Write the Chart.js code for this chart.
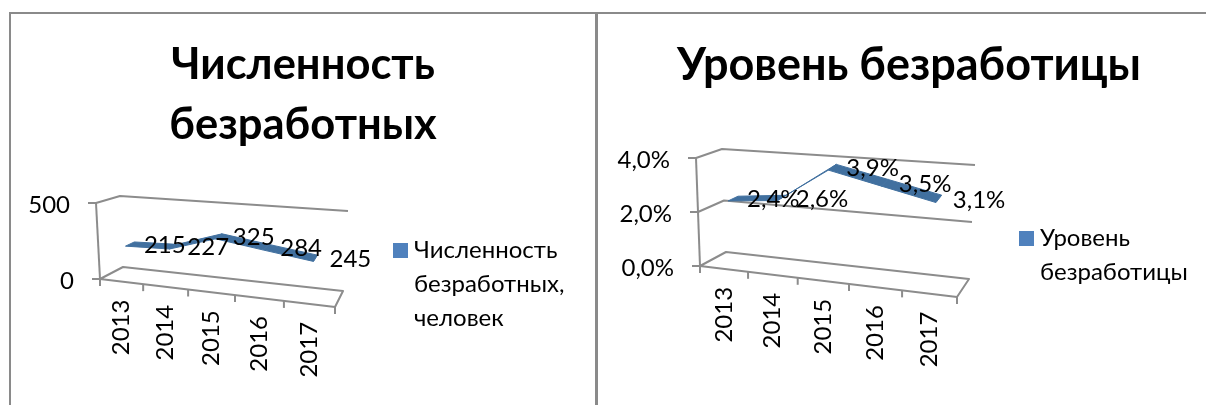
<!DOCTYPE html>
<html>
<head>
<meta charset="utf-8">
<style>
    html, body { margin: 0; padding: 0; background: #fff; overflow: hidden; }
    #frame { position: absolute; left: 9px; top: 12px; width: 1197px; height: 393px; border-left: 2px solid #8a8a8a; border-top: 2px solid #8a8a8a; box-sizing: border-box; }
    #divider { position: absolute; left: 595px; top: 12px; width: 3px; height: 393px; background: #8a8a8a; }
    canvas { position: absolute; top: 14px; }
    #chart-left { left: 11px; }
    #chart-right { left: 612px; }
</style>
<script src="https://cdn.jsdelivr.net/npm/chart.js@4"></script>
</head>
<body>
<div id="frame"></div>
<div id="divider"></div>
<canvas id="chart-left" width="584" height="391"></canvas>
<canvas id="chart-right" width="594" height="391"></canvas>
<script>
// Chart data
const categories = ['2013', '2014', '2015', '2016', '2017'];
const unemployedCounts = [215, 227, 325, 284, 245];
const unemploymentRates = [2.4, 2.6, 3.9, 3.5, 3.1];
const leftTitle = ['Численность', 'безработных'];
const rightTitle = 'Уровень безработицы';
const leftLegend = ['Численность', 'безработных,', 'человек'];
const rightLegend = ['Уровень', 'безработицы'];

const FONT = 'Lato, "Open Sans", sans-serif';
const GRID_COLOR = '#8c8c8c';
const RIBBON_COLOR = '#41709f';
const LEGEND_COLOR = '#4f81bd';

function lerp(a, b, t) {
    return [a[0] + (b[0] - a[0]) * t, a[1] + (b[1] - a[1]) * t];
}

// Fake Excel 3D box: maps u (along x), v (up), z (depth) onto the corners of the box
function project(box, u, v, z) {
    const w = box.warp * u / (1 + (box.warp - 1) * u);
    const frontBottom = lerp(box.fbl, box.fbr, w);
    const frontTop = lerp(box.ftl, box.ftr, w);
    const backBottom = lerp(box.bbl, box.bbr, w);
    const backTop = lerp(box.btl, box.btr, w);
    return lerp(lerp(frontBottom, frontTop, v), lerp(backBottom, backTop, v), z);
}

function strokePath(ctx, points) {
    ctx.beginPath();
    points.forEach((p, i) => i === 0 ? ctx.moveTo(p[0], p[1]) : ctx.lineTo(p[0], p[1]));
    ctx.stroke();
}

const box3d = {
    id: 'box3d',
    afterDatasetsDraw(chart, args, opts) {
        const ctx = chart.ctx;
        const box = opts.box;
        const xScale = chart.scales.x;
        const yScale = chart.scales.y;
        const area = chart.chartArea;
        const toU = px => (px - area.left) / (area.right - area.left);
        const toV = py => (area.bottom - py) / (area.bottom - area.top);

        ctx.save();
        ctx.translate(-opts.originX, -opts.originY);
        ctx.strokeStyle = GRID_COLOR;
        ctx.lineWidth = 2;
        ctx.lineJoin = 'round';
        ctx.fillStyle = '#000';
        ctx.font = opts.fontSize + 'px ' + FONT;

        // floor
        strokePath(ctx, [project(box, 0, 0, 0), project(box, 0, 0, 1), project(box, 1, 0, 1), project(box, 1, 0, 0), project(box, 0, 0, 0)]);
        // value axis
        strokePath(ctx, [project(box, 0, 0, 0), project(box, 0, 1, 0)]);

        // y ticks, walls and labels
        ctx.textAlign = 'right';
        ctx.textBaseline = 'middle';
        yScale.ticks.forEach((tick, i) => {
            const v = toV(yScale.getPixelForTick(i));
            const front = project(box, 0, v, 0);
            strokePath(ctx, [[front[0] - 8, front[1]], front]);
            if (v > 0) {
                strokePath(ctx, [front, project(box, 0, v, 1), project(box, 1, v, 1)]);
            }
            ctx.fillText(tick.label, front[0] - 26, front[1] + 2);
        });

        // x ticks at category edges
        for (let i = 0; i <= categories.length; i++) {
            const p = project(box, toU(xScale.getPixelForValue(i - 0.5)), 0, 0);
            strokePath(ctx, [p, [p[0], p[1] + 7]]);
        }

        // rotated x labels
        xScale.ticks.forEach((tick, i) => {
            const p = project(box, toU(xScale.getPixelForTick(i)), 0, 0);
            ctx.save();
            ctx.translate(p[0], p[1] + 18);
            ctx.rotate(-Math.PI / 2);
            ctx.textAlign = 'right';
            ctx.textBaseline = 'middle';
            ctx.fillText(tick.label, 0, 0);
            ctx.restore();
        });

        // ribbon from the dataset's own points
        const meta = chart.getDatasetMeta(0);
        const near = meta.data.map(el => project(box, toU(el.x), toV(el.y), opts.zNear));
        const far = meta.data.map(el => project(box, toU(el.x), toV(el.y), opts.zFar));
        ctx.fillStyle = RIBBON_COLOR;
        ctx.strokeStyle = RIBBON_COLOR;
        ctx.lineWidth = 1;
        for (let i = 0; i < near.length - 1; i++) {
            ctx.beginPath();
            ctx.moveTo(near[i][0], near[i][1]);
            ctx.lineTo(near[i + 1][0], near[i + 1][1]);
            ctx.lineTo(far[i + 1][0], far[i + 1][1]);
            ctx.lineTo(far[i][0], far[i][1]);
            ctx.closePath();
            ctx.fill();
            ctx.stroke();
        }

        // data labels sit to the right of each point
        ctx.fillStyle = '#000';
        ctx.textAlign = 'left';
        ctx.textBaseline = 'middle';
        chart.data.datasets[0].data.forEach((val, i) => {
            const el = meta.data[i];
            const p = project(box, toU(el.x), toV(el.y), (opts.zNear + opts.zFar) / 2);
            ctx.fillText(opts.format(val), p[0] + 14, p[1] + 1);
        });

        // legend
        ctx.fillStyle = LEGEND_COLOR;
        ctx.fillRect(opts.legend.x, opts.legend.y, 15, 15);
        ctx.fillStyle = '#000';
        opts.legend.lines.forEach((line, i) => {
            ctx.fillText(line, opts.legend.x + 21, opts.legend.y + 7 + i * 34);
        });
        ctx.restore();
    }
};

function buildChart(id, cfg) {
    return new Chart(document.getElementById(id), {
        type: 'line',
        data: {
            labels: categories,
            datasets: [{
                label: cfg.label,
                data: cfg.values,
                showLine: false,
                pointRadius: 0,
                borderColor: LEGEND_COLOR,
                backgroundColor: LEGEND_COLOR
            }]
        },
        options: {
            responsive: false,
            animation: false,
            devicePixelRatio: 1,
            layout: { padding: { bottom: 40, left: 20, right: 20 } },
            plugins: {
                legend: { display: false },
                tooltip: { enabled: false },
                title: {
                    display: true,
                    text: cfg.title,
                    color: '#000',
                    font: { family: FONT, size: cfg.titleSize, weight: 'bold', lineHeight: 60 / cfg.titleSize },
                    padding: { top: 21, bottom: 10 }
                },
                box3d: cfg.box3d
            },
            scales: {
                x: { display: false, offset: true, ticks: { autoSkip: false } },
                y: {
                    display: false,
                    min: 0,
                    max: cfg.max,
                    ticks: { stepSize: cfg.step, callback: cfg.format }
                }
            }
        },
        plugins: [box3d]
    });
}

buildChart('chart-left', {
    label: 'Численность безработных, человек',
    values: unemployedCounts,
    title: leftTitle,
    titleSize: 43.5,
    max: 500,
    step: 500,
    format: v => String(v),
    box3d: {
        originX: 11, originY: 14, fontSize: 24, zNear: 0.25, zFar: 0.65,
        format: v => String(v),
        legend: { x: 393, y: 243, lines: leftLegend },
        box: {
            warp: 0.9,
            fbl: [100, 279], ftl: [96, 203], bbl: [123, 267], btl: [120, 196],
            fbr: [335, 307], ftr: [340, 228], bbr: [343, 291], btr: [348, 211]
        }
    }
});

buildChart('chart-right', {
    label: 'Уровень безработицы',
    values: unemploymentRates,
    title: rightTitle,
    titleSize: 45,
    max: 4,
    step: 2,
    format: v => v.toFixed(1).replace('.', ',') + '%',
    box3d: {
        originX: 612, originY: 14, fontSize: 24, zNear: 0.25, zFar: 0.65,
        format: v => v.toFixed(1).replace('.', ',') + '%',
        legend: { x: 1019, y: 231, lines: rightLegend },
        box: {
            warp: 0.92,
            fbl: [700, 266], ftl: [696, 158], bbl: [726, 252], btl: [722, 149],
            fbr: [957, 297], ftr: [962, 185], bbr: [969, 279], btr: [975, 165]
        }
    }
});
</script>
</body>
</html>
